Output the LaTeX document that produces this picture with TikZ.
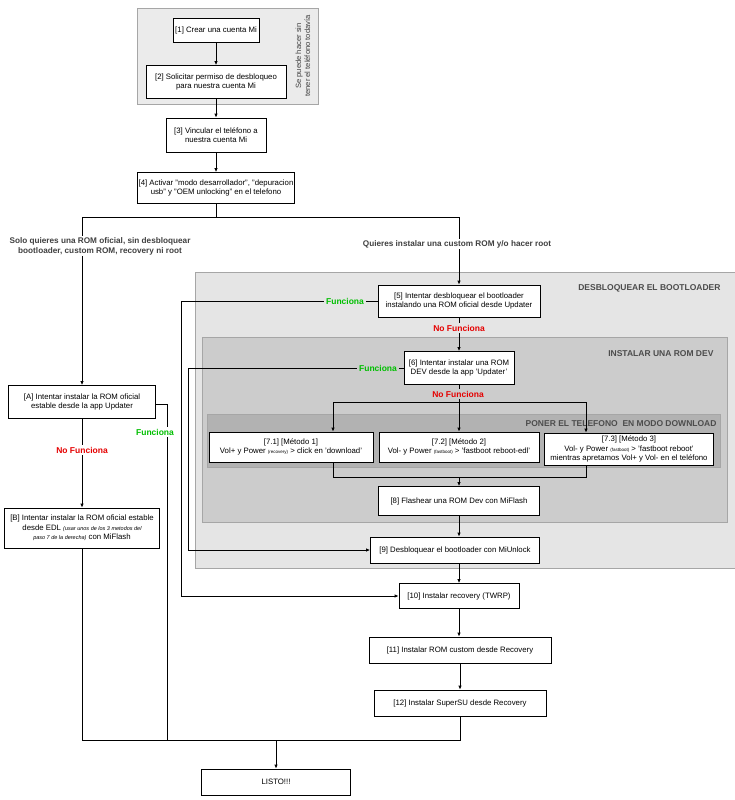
\documentclass[tikz,border=0pt]{standalone}
\usepackage{fontspec}
\setmainfont{Liberation Sans}
\usetikzlibrary{arrows.meta}
\begin{document}
\begin{tikzpicture}[x=1pt,y=-1pt,
 box/.style={draw=black,fill=white,line width=0.8pt,align=center,font=\fontsize{7.8}{9.4}\selectfont,inner sep=1pt},
 reg/.style={draw=gray!70,line width=0.5pt},
 lab/.style={font=\bfseries\fontsize{8.2}{9.8}\selectfont,align=center,text=black!75,fill=white,inner sep=1pt},
 ok/.style={font=\bfseries\fontsize{8.5}{9}\selectfont,text=green!75!black,inner sep=2pt},
 ko/.style={font=\bfseries\fontsize{8.5}{9}\selectfont,text=red!90!black,inner sep=2pt},
 ttl/.style={font=\bfseries\fontsize{8.5}{9}\selectfont,text=black!70},
 ln/.style={line width=0.8pt},
 ar/.style={ln,-{Latex[length=4pt,width=3.5pt]}}]
\useasboundingbox (0,0) rectangle (735,800);
% regions
\draw[reg,fill=black!8] (137,8) rectangle (318,104);
\node[rotate=90,font=\fontsize{7.6}{9}\selectfont,align=center,text=black!75] (note) at (303,56) {Se puede hacer sin\\tener el teléfono todavía};
\draw[reg,fill=black!10] (195,272) rectangle (735,568);
\draw[reg,fill=black!20] (202,337) rectangle (727,522);
\draw[reg,fill=black!30] (207,414) rectangle (720,467);
\node[ttl,anchor=east] (t1) at (724,288) {DESBLOQUEAR EL BOOTLOADER};
\node[ttl,anchor=east] (t2) at (717,354) {INSTALAR UNA ROM DEV};
\node[ttl,anchor=east] (t3) at (720,424) {PONER EL TELEFONO \ EN MODO DOWNLOAD};
% boxes
\node[box,minimum width=86,minimum height=24] (n1) at (216,30) {[1] Crear una cuenta Mi};
\node[box,minimum width=140,minimum height=33] (n2) at (216,82) {[2] Solicitar permiso de desbloqueo\\para nuestra cuenta Mi};
\node[box,minimum width=100,minimum height=34] (n3) at (216,135) {[3] Vincular el teléfono a\\nuestra cuenta Mi};
\node[box,minimum width=155,minimum height=31] (n4) at (216,188) {[4] Activar "modo desarrollador", "depuracion\\usb" y "OEM unlocking" en el telefono};
\node[box,minimum width=162,minimum height=32] (n5) at (459,301) {[5] Intentar desbloquear el bootloader\\instalando una ROM oficial desde Updater};
\node[box,minimum width=110,minimum height=33] (n6) at (459,368) {[6] Intentar instalar una ROM\\DEV desde la app 'Updater'};
\node[box,minimum width=164,minimum height=30] (n71) at (291,447) {[7.1] [Método 1]\\Vol+ y Power {\fontsize{4.5}{5}\selectfont(recovery)} > click en 'download'};
\node[box,minimum width=160,minimum height=30] (n72) at (459,447) {[7.2] [Método 2]\\Vol- y Power {\fontsize{4.5}{5}\selectfont(fastboot)} > 'fastboot reboot-edl'};
\node[box,minimum width=169,minimum height=32] (n73) at (629,449) {[7.3] [Método 3]\\Vol- y Power {\fontsize{4.5}{5}\selectfont(fastboot)} > 'fastboot reboot'\\mientras apretamos Vol+ y Vol- en el teléfono};
\node[box,minimum width=161,minimum height=29] (n8) at (459,501) {[8] Flashear una ROM Dev con MiFlash};
\node[box,minimum width=169,minimum height=26] (n9) at (455,550) {[9] Desbloquear el bootloader con MiUnlock};
\node[box,minimum width=120,minimum height=25] (n10) at (459,596) {[10] Instalar recovery (TWRP)};
\node[box,minimum width=182,minimum height=26] (n11) at (460,650) {[11] Instalar ROM custom desde Recovery};
\node[box,minimum width=172,minimum height=26] (n12) at (460,703) {[12] Instalar SuperSU desde Recovery};
\node[box,minimum width=149,minimum height=26] (L) at (276,782) {LISTO!!!};
\node[box,minimum width=147,minimum height=33] (A) at (82,402) {[A] Intentar instalar la ROM oficial\\estable desde la app Updater};
\node[box,minimum width=155,minimum height=40] (B) at (82,528) {[B] Intentar instalar la ROM oficial estable\\desde EDL {\itshape\fontsize{5.5}{7}\selectfont (usar unos de los 3 metodos del}\\{\itshape\fontsize{5.5}{7}\selectfont paso 7 de la derecha)} con MiFlash};
% coordinates
\coordinate (s) at (216,217);
\coordinate (sl) at (82,217);
\coordinate (sr) at (459,217);
\coordinate (b7) at (459,402);
\coordinate (m7) at (459,477);
\coordinate (bot) at (276,740);
\coordinate (ll) at (82,740);
\coordinate (lr) at (460,740);
% connectors
\draw[ar] (n1) -- (n2);
\draw[ar] (n2) -- (n3);
\draw[ar] (n3) -- (n4);
\draw[ln] (n4) -- (s);
\draw[ln] (sl) -- (sr);
\draw[ar] (sl) -- (A);
\draw[ar] (sr) -- (n5);
\node[lab] (l1) at (100,246) {Solo quieres una ROM oficial, sin desbloquear\\bootloader, custom ROM, recovery ni root};
\node[lab] (l2) at (457,244) {Quieres instalar una custom ROM y/o hacer root};
\draw[ar] (n5) -- (n6);
\node[ko,fill=black!10] (k1) at (459,328) {No Funciona};
\draw[ln] (n6) -- (b7);
\draw[ln] (333,402) -- (586,402);
\draw[ar] (333,402) -- (n71.north -| 333,0);
\draw[ar] (b7) -- (n72);
\draw[ar] (586,402) -- (n73.north -| 586,0);
\node[ko,fill=black!20] (k2) at (458,394) {No Funciona};
\draw[ln] (n71.south -| 333,0) |- (m7);
\draw[ln] (n73.south -| 586,0) |- (m7);
\draw[ar] (m7) -- (n8);
\draw[ar] (n8) -- (n8 |- n9.north);
\draw[ar] (n9.south -| n10) -- (n10);
\draw[ar] (n10) -- (n10 |- n11.north);
\draw[ar] (n11) -- (n12);
\draw[ar] (n5.west) -| (181,596) -- (n10.west);
\node[ok,fill=black!10] (f1) at (345,301) {Funciona};
\draw[ar] (n6.west) -| (188,550) -- (n9.west);
\node[ok,fill=black!20] (f2) at (378,368) {Funciona};
\draw[ar] (A) -- (B);
\node[ko,fill=white] (k3) at (82,450) {No Funciona};
\draw[ln] (A.east |- 0,404) -- (167,404) -- (167,740);
\node[ok,fill=white] (f3) at (155,432) {Funciona};
\draw[ln] (B.south) -- (ll) -- (lr) -- (n12.south -| lr);
\draw[ar] (bot) -- (L);
\end{tikzpicture}
\end{document}
